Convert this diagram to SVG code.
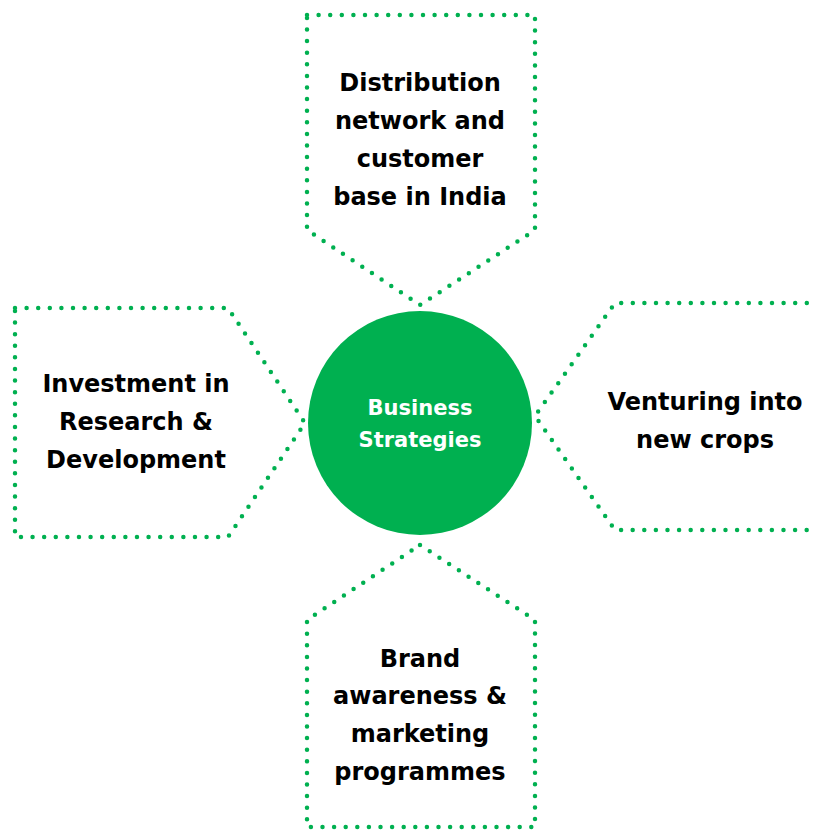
<svg xmlns="http://www.w3.org/2000/svg" width="816" height="832" viewBox="0 0 816 832">
<style>
.box{fill:none;stroke:#00B050;stroke-width:4.5;stroke-linecap:round;stroke-linejoin:round;stroke-dasharray:0 11.6}
.t{font-family:"DejaVu Sans",sans-serif;font-weight:bold;font-size:24px;fill:#000;text-anchor:middle}
.c{font-family:"DejaVu Sans",sans-serif;font-weight:bold;font-size:21px;fill:#fff;text-anchor:middle}
</style>
<rect width="816" height="832" fill="#fff"/>
<g id="connectors"></g>
<g id="top">
<path class="box" d="M307,15 H535 V230 L420,305 L307,230 Z"/>
<text class="t" x="420" y="91">Distribution</text>
<text class="t" x="420" y="129">network and</text>
<text class="t" x="420" y="167">customer</text>
<text class="t" x="420" y="205">base in India</text>
</g>
<g id="left">
<path class="box" d="M15,308 H228 L305,423 L228,537 H15 Z"/>
<text class="t" x="136" y="392">Investment in</text>
<text class="t" x="136" y="430">Research &amp;</text>
<text class="t" x="136" y="468">Development</text>
</g>
<g id="right">
<path class="box" d="M830,303 H615 L535,416 L615,530 H830"/>
<text class="t" x="705" y="410">Venturing into</text>
<text class="t" x="705" y="448">new crops</text>
</g>
<g id="bottom">
<path class="box" d="M420,545 L535,620 V827 H307 V620 Z"/>
<text class="t" x="420" y="667">Brand</text>
<text class="t" x="420" y="704">awareness &amp;</text>
<text class="t" x="420" y="742">marketing</text>
<text class="t" x="420" y="780">programmes</text>
</g>
<g id="center">
<circle cx="420" cy="423" r="112" fill="#00B050"/>
<text class="c" x="420" y="415">Business</text>
<text class="c" x="420" y="447">Strategies</text>
</g>
</svg>
